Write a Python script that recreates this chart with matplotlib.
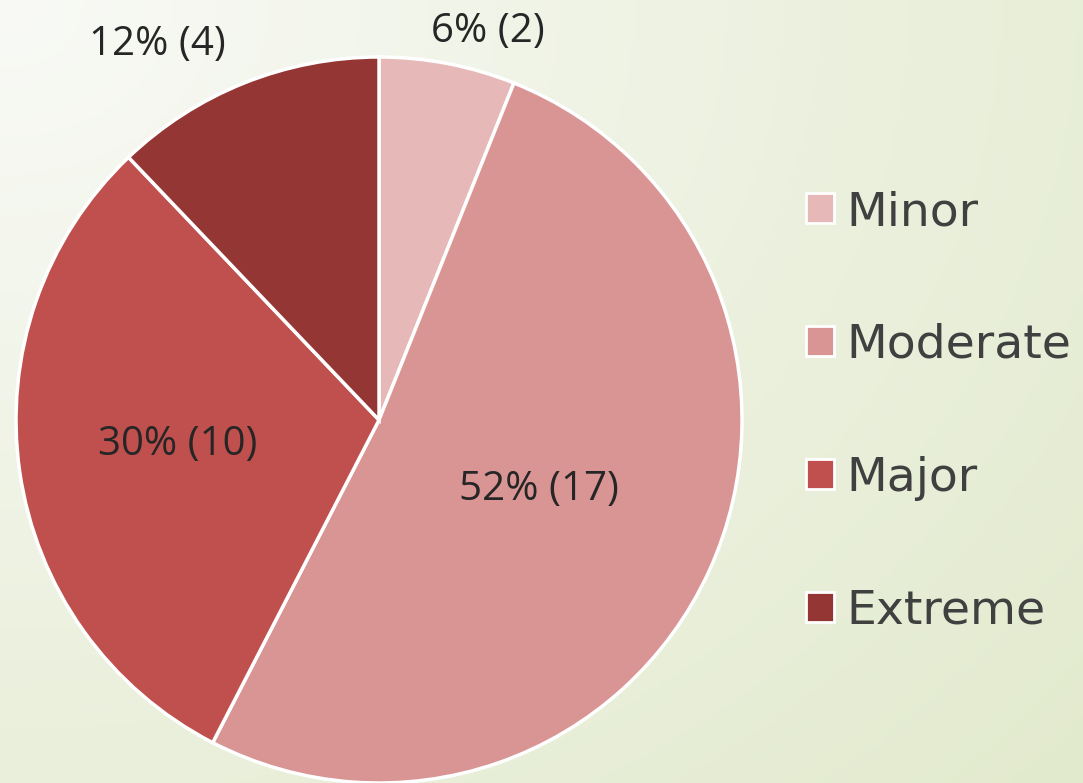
import numpy as np
import matplotlib.pyplot as plt
from matplotlib.patches import Patch

# Severity categories and counts
categories = ['Minor', 'Moderate', 'Major', 'Extreme']
counts = [2, 17, 10, 4]
colors = ['#E6B9B8', '#D99594', '#C0504D', '#943634']

# label placement (radius, angle offset in degrees) per wedge
label_radius = [1.11, 0.48, 0.56, 1.20]
label_shift = [-4.7, 0.9, -1.2, 8.8]

fig = plt.figure(figsize=(10.83, 7.83), dpi=100)

# Soft background gradient, light at top-left to pale green at bottom-right
bg = fig.add_axes([0, 0, 1, 1])
yy, xx = np.mgrid[0:1:200j, 0:1:280j]
t = np.clip(np.sqrt((xx * 1.0) ** 2 + (yy * 0.9) ** 2) / 1.3, 0, 1)
c0 = np.array([0.975, 0.98, 0.965])
c1 = np.array([0.89, 0.92, 0.81])
img = c0 + (c1 - c0) * t[..., None]
bg.imshow(img, aspect='auto', extent=[0, 1, 0, 1], origin='upper')
bg.axis('off')

ax = fig.add_axes([0.01477, 0.0, 0.6704, 0.9272])
wedges, _ = ax.pie(counts, colors=colors, startangle=90, counterclock=False,
                   radius=1.0, wedgeprops=dict(edgecolor='white', linewidth=2.5))
ax.set_xlim(-1, 1)
ax.set_ylim(-1, 1)
ax.set_aspect('equal')

total = sum(counts)
for w, n, r, s in zip(wedges, counts, label_radius, label_shift):
    ang = np.deg2rad((w.theta1 + w.theta2) / 2 + s)
    ax.text(r * np.cos(ang), r * np.sin(ang), f'{round(100 * n / total)}% ({n})',
            ha='center', va='center', fontsize=29, color='#262626',
            family='Open Sans', clip_on=False)

handles = [Patch(facecolor=c, edgecolor='white', linewidth=2) for c in colors]
fig.legend(handles, categories, loc='center left', bbox_to_anchor=(0.705, 0.474),
           frameon=False, labelcolor='#404040', labelspacing=1.86,
           handlelength=0.6, handleheight=0.6, handletextpad=0.25,
           prop=dict(family='DejaVu Sans', size=34))

fig.savefig('out.png', dpi=100)
